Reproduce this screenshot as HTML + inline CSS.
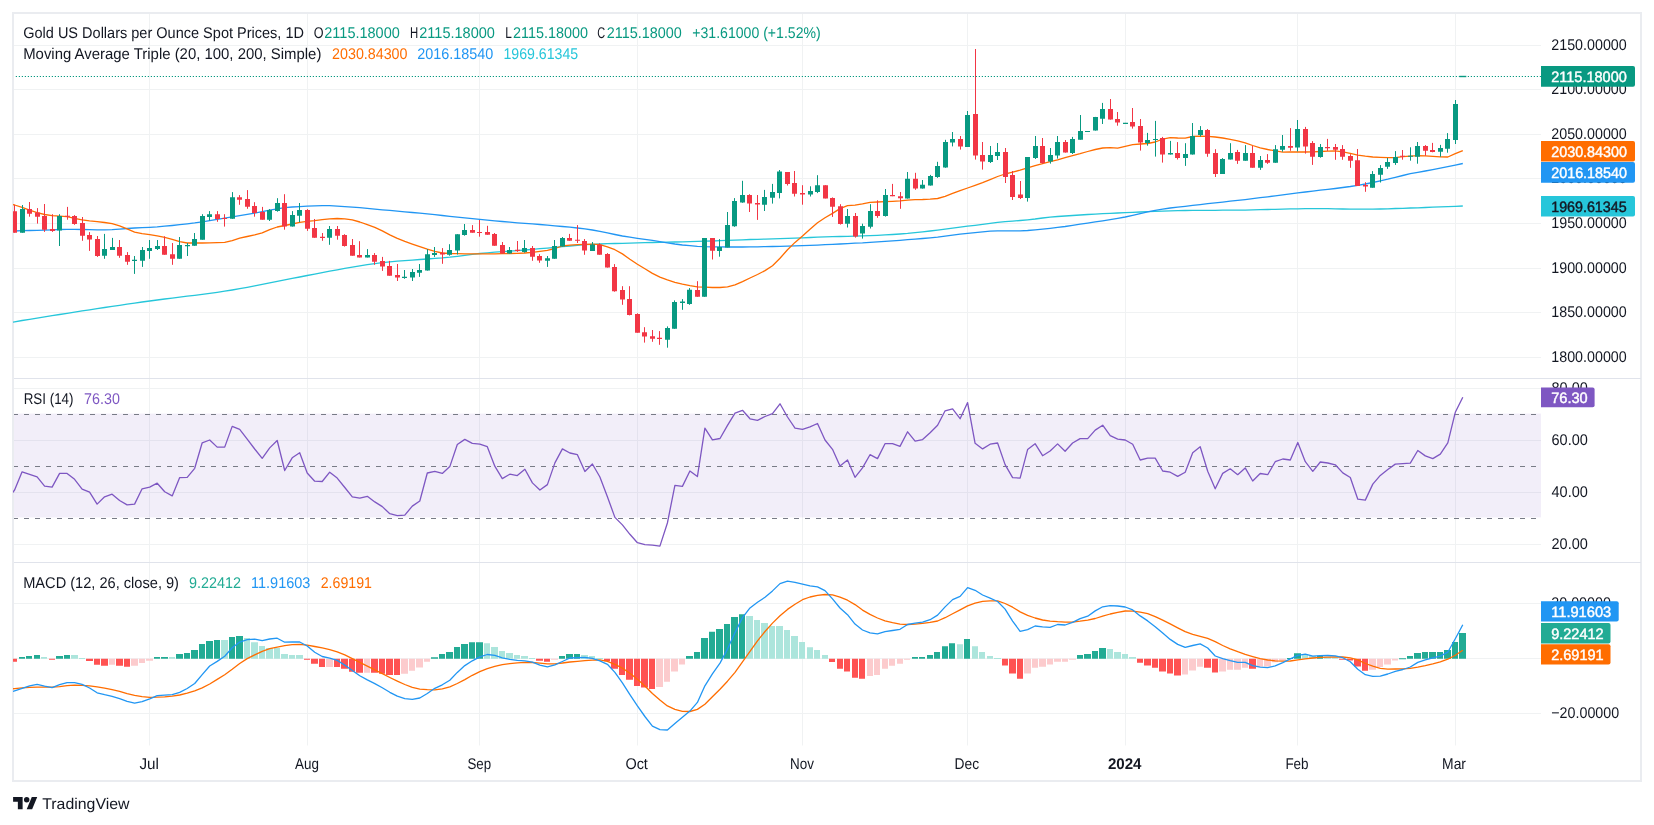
<!DOCTYPE html><html><head><meta charset="utf-8"><style>html,body{margin:0;padding:0;background:#fff;width:1654px;height:825px;overflow:hidden}svg{display:block;position:absolute;left:0;top:0;will-change:transform}</style></head><body>
<svg width="1654" height="825" viewBox="0 0 1654 825" font-family='"Liberation Sans", sans-serif' text-rendering="geometricPrecision">
<rect x="0" y="0" width="1654" height="825" fill="#ffffff"/>
<rect x="13" y="13" width="1628" height="768" fill="none" stroke="#eaecf0" stroke-width="2"/>
<defs><clipPath id="ca"><rect x="14" y="14" width="1527" height="732"/></clipPath><clipPath id="cm"><rect x="13" y="14" width="1528" height="364"/></clipPath><clipPath id="cr"><rect x="13" y="379" width="1528" height="183"/></clipPath><clipPath id="cd"><rect x="13" y="563" width="1528" height="183"/></clipPath></defs>
<path d="M149.5 14V745.5 M307.5 14V745.5 M479.5 14V745.5 M637.5 14V745.5 M802.5 14V745.5 M967.5 14V745.5 M1125.5 14V745.5 M1297.5 14V745.5 M1455.5 14V745.5 M14 45.5H1541 M14 89.5H1541 M14 134.5H1541 M14 178.5H1541 M14 223.5H1541 M14 268.5H1541 M14 312.5H1541 M14 357.5H1541 M14 388.5H1541 M14 440.5H1541 M14 492.5H1541 M14 544.5H1541 M14 603.5H1541 M14 658.5H1541 M14 713.5H1541" stroke="#f0f2f3" stroke-width="1" fill="none"/>
<path d="M14 378.5H1641M14 562.5H1641" stroke="#e0e3eb" stroke-width="1" fill="none"/>
<rect x="14" y="413.6" width="1527" height="103.8" fill="#7e57c2" fill-opacity="0.1"/>
<path d="M14 414.5H1541M14 466.5H1541M14 518.5H1541" stroke="#787b86" stroke-width="1.1" stroke-dasharray="5 6" stroke-dashoffset="1" fill="none"/>
<g clip-path="url(#cm)">
<polyline points="7.1,323.1 14.6,321.8 22.1,320.5 29.6,319.3 37.1,318.1 44.6,316.9 52.1,315.6 59.6,314.5 67.1,313.3 74.6,312.1 82.1,310.9 89.6,309.8 97.1,308.6 104.6,307.5 112.1,306.4 119.6,305.3 127.1,304.2 134.6,303.1 142.1,302.0 149.7,301.0 157.2,300.0 164.7,299.0 172.2,298.1 179.7,297.1 187.2,296.2 194.7,295.3 202.2,294.3 209.7,293.3 217.2,292.3 224.7,291.2 232.2,290.0 239.7,288.7 247.2,287.3 254.7,285.9 262.2,284.4 269.7,282.9 277.2,281.4 284.7,279.9 292.2,278.4 299.7,277.0 307.2,275.5 314.7,274.1 322.2,272.6 329.7,271.2 337.2,269.8 344.8,268.4 352.3,267.2 359.8,265.9 367.3,264.7 374.8,263.6 382.3,262.7 389.8,261.9 397.3,261.2 404.8,260.6 412.3,260.1 419.8,259.5 427.3,259.0 434.8,258.4 442.3,257.9 449.8,257.2 457.3,256.3 464.8,255.3 472.3,254.3 479.8,253.5 487.3,252.8 494.8,252.2 502.3,251.7 509.8,251.2 517.3,250.6 524.9,250.0 532.4,249.4 539.9,248.7 547.4,248.1 554.9,247.4 562.4,246.7 569.9,246.0 577.4,245.3 584.9,244.7 592.4,244.3 599.9,244.0 607.4,243.7 614.9,243.5 622.4,243.3 629.9,243.1 637.4,242.9 644.9,242.7 652.4,242.5 659.9,242.3 667.4,242.1 674.9,242.0 682.4,241.8 689.9,241.6 697.4,241.4 704.9,241.2 712.4,241.0 720.0,240.7 727.5,240.4 735.0,240.1 742.5,239.8 750.0,239.5 757.5,239.3 765.0,239.1 772.5,238.9 780.0,238.7 787.5,238.4 795.0,238.1 802.5,237.8 810.0,237.5 817.5,237.1 825.0,236.9 832.5,236.7 840.0,236.5 847.5,236.3 855.0,236.1 862.5,235.9 870.0,235.6 877.5,235.3 885.0,234.9 892.5,234.5 900.0,234.0 907.6,233.4 915.1,232.6 922.6,231.8 930.1,231.0 937.6,230.1 945.1,229.1 952.6,228.2 960.1,227.2 967.6,226.2 975.1,225.3 982.6,224.3 990.1,223.3 997.6,222.4 1005.1,221.7 1012.6,221.1 1020.1,220.5 1027.6,219.8 1035.1,219.0 1042.6,218.0 1050.1,217.2 1057.6,216.5 1065.1,216.0 1072.6,215.5 1080.1,215.0 1087.7,214.5 1095.2,214.1 1102.7,213.7 1110.2,213.3 1117.7,213.0 1125.2,212.6 1132.7,212.3 1140.2,212.0 1147.7,211.7 1155.2,211.4 1162.7,211.2 1170.2,210.9 1177.7,210.7 1185.2,210.5 1192.7,210.4 1200.2,210.3 1207.7,210.3 1215.2,210.3 1222.7,210.2 1230.2,210.2 1237.7,210.2 1245.2,210.1 1252.7,209.9 1260.2,209.7 1267.7,209.5 1275.2,209.3 1282.8,209.1 1290.3,208.9 1297.8,208.8 1305.3,208.7 1312.8,208.6 1320.3,208.6 1327.8,208.7 1335.3,208.8 1342.8,209.0 1350.3,209.1 1357.8,209.2 1365.3,209.2 1372.8,209.1 1380.3,209.0 1387.8,208.8 1395.3,208.5 1402.8,208.3 1410.3,208.0 1417.8,207.8 1425.3,207.5 1432.8,207.2 1440.3,206.9 1447.8,206.6 1455.3,206.3 1462.8,206.0" fill="none" stroke="#26c6da" stroke-width="1.3" stroke-linejoin="round"/>
<polyline points="7.1,231.2 14.6,231.0 22.1,230.7 29.6,230.5 37.1,230.3 44.6,230.1 52.1,229.8 59.6,229.5 67.1,229.3 74.6,229.3 82.1,229.5 89.6,229.7 97.1,229.8 104.6,229.9 112.1,229.7 119.6,229.1 127.1,228.5 134.6,228.0 142.1,227.7 149.7,227.3 157.2,226.9 164.7,226.2 172.2,225.5 179.7,224.7 187.2,223.8 194.7,222.9 202.2,221.8 209.7,220.6 217.2,219.4 224.7,218.1 232.2,216.9 239.7,215.7 247.2,214.4 254.7,213.1 262.2,211.7 269.7,210.2 277.2,208.8 284.7,207.7 292.2,207.0 299.7,206.6 307.2,206.2 314.7,205.8 322.2,205.6 329.7,205.7 337.2,206.1 344.8,206.6 352.3,207.2 359.8,207.7 367.3,208.4 374.8,209.1 382.3,209.8 389.8,210.4 397.3,211.1 404.8,211.8 412.3,212.5 419.8,213.2 427.3,213.9 434.8,214.7 442.3,215.5 449.8,216.3 457.3,217.1 464.8,217.9 472.3,218.7 479.8,219.4 487.3,220.1 494.8,220.8 502.3,221.5 509.8,222.1 517.3,222.8 524.9,223.4 532.4,223.9 539.9,224.5 547.4,225.1 554.9,225.8 562.4,226.5 569.9,227.2 577.4,228.0 584.9,228.9 592.4,230.0 599.9,231.3 607.4,232.9 614.9,234.5 622.4,236.0 629.9,237.2 637.4,238.3 644.9,239.3 652.4,240.4 659.9,241.6 667.4,242.8 674.9,244.0 682.4,245.0 689.9,245.7 697.4,246.4 704.9,246.7 712.4,246.8 720.0,246.9 727.5,247.0 735.0,247.0 742.5,247.0 750.0,246.9 757.5,246.8 765.0,246.6 772.5,246.5 780.0,246.3 787.5,246.1 795.0,245.9 802.5,245.6 810.0,245.4 817.5,245.1 825.0,244.7 832.5,244.4 840.0,244.0 847.5,243.6 855.0,243.2 862.5,242.9 870.0,242.4 877.5,241.9 885.0,241.4 892.5,240.9 900.0,240.3 907.6,239.7 915.1,239.1 922.6,238.5 930.1,237.8 937.6,237.1 945.1,236.2 952.6,235.2 960.1,234.2 967.6,233.4 975.1,232.6 982.6,231.8 990.1,231.2 997.6,230.8 1005.1,230.8 1012.6,230.8 1020.1,230.8 1027.6,230.5 1035.1,229.8 1042.6,229.1 1050.1,228.3 1057.6,227.4 1065.1,226.5 1072.6,225.4 1080.1,224.2 1087.7,223.1 1095.2,221.9 1102.7,220.8 1110.2,219.6 1117.7,218.3 1125.2,217.0 1132.7,215.4 1140.2,213.7 1147.7,211.9 1155.2,210.3 1162.7,209.1 1170.2,208.0 1177.7,207.1 1185.2,206.3 1192.7,205.4 1200.2,204.6 1207.7,203.7 1215.2,202.9 1222.7,202.1 1230.2,201.2 1237.7,200.4 1245.2,199.6 1252.7,198.7 1260.2,197.7 1267.7,196.8 1275.2,195.8 1282.8,194.9 1290.3,193.9 1297.8,192.9 1305.3,192.0 1312.8,191.1 1320.3,190.2 1327.8,189.4 1335.3,188.5 1342.8,187.5 1350.3,186.5 1357.8,185.3 1365.3,184.0 1372.8,182.5 1380.3,180.9 1387.8,179.2 1395.3,177.3 1402.8,175.5 1410.3,173.7 1417.8,172.3 1425.3,171.0 1432.8,169.6 1440.3,168.1 1447.8,166.6 1455.3,165.1 1462.8,163.5" fill="none" stroke="#2196f3" stroke-width="1.3" stroke-linejoin="round"/>
<polyline points="7.1,203.1 14.6,205.0 22.1,207.3 29.6,210.2 37.1,212.6 44.6,214.5 52.1,215.7 59.6,216.1 67.1,216.7 74.6,218.3 82.1,219.9 89.6,220.9 97.1,221.7 104.6,222.5 112.1,223.7 119.6,225.9 127.1,228.8 134.6,232.1 142.1,233.6 149.7,234.6 157.2,235.9 164.7,237.4 172.2,239.3 179.7,241.7 187.2,243.0 194.7,243.0 202.2,243.0 209.7,242.9 217.2,242.7 224.7,242.4 232.2,240.6 239.7,238.2 247.2,236.5 254.7,234.8 262.2,232.8 269.7,229.7 277.2,227.0 284.7,225.5 292.2,224.0 299.7,222.4 307.2,221.4 314.7,220.6 322.2,219.6 329.7,218.8 337.2,218.5 344.8,218.8 352.3,219.9 359.8,222.0 367.3,224.6 374.8,227.4 382.3,230.9 389.8,234.8 397.3,238.4 404.8,241.4 412.3,244.1 419.8,246.7 427.3,249.2 434.8,251.3 442.3,253.0 449.8,253.5 457.3,253.7 464.8,253.8 472.3,253.9 479.8,253.9 487.3,253.9 494.8,253.8 502.3,253.7 509.8,253.5 517.3,253.3 524.9,253.0 532.4,252.3 539.9,251.4 547.4,250.4 554.9,248.5 562.4,246.0 569.9,245.1 577.4,244.7 584.9,244.4 592.4,244.2 599.9,244.7 607.4,246.9 614.9,249.7 622.4,253.9 629.9,259.2 637.4,264.2 644.9,268.8 652.4,273.4 659.9,277.1 667.4,279.9 674.9,282.3 682.4,284.1 689.9,285.6 697.4,286.8 704.9,287.2 712.4,287.5 720.0,287.5 727.5,286.8 735.0,284.8 742.5,281.6 750.0,278.0 757.5,274.5 765.0,270.6 772.5,265.7 780.0,258.3 787.5,249.7 795.0,242.4 802.5,236.1 810.0,229.2 817.5,222.8 825.0,217.8 832.5,213.4 840.0,208.6 847.5,205.6 855.0,205.1 862.5,203.9 870.0,202.4 877.5,202.0 885.0,201.7 892.5,201.3 900.0,200.8 907.6,200.1 915.1,199.7 922.6,199.5 930.1,199.1 937.6,198.5 945.1,196.4 952.6,193.4 960.1,190.6 967.6,188.0 975.1,185.3 982.6,182.6 990.1,179.6 997.6,176.5 1005.1,174.0 1012.6,172.2 1020.1,170.2 1027.6,167.9 1035.1,165.6 1042.6,163.6 1050.1,161.7 1057.6,159.8 1065.1,157.7 1072.6,155.6 1080.1,153.7 1087.7,151.5 1095.2,149.5 1102.7,148.0 1110.2,147.7 1117.7,148.2 1125.2,146.4 1132.7,144.6 1140.2,144.0 1147.7,143.5 1155.2,142.0 1162.7,139.1 1170.2,137.6 1177.7,138.0 1185.2,138.2 1192.7,136.5 1200.2,136.1 1207.7,136.3 1215.2,137.0 1222.7,138.0 1230.2,139.4 1237.7,140.9 1245.2,142.9 1252.7,145.5 1260.2,147.8 1267.7,149.5 1275.2,150.9 1282.8,152.1 1290.3,152.0 1297.8,152.0 1305.3,152.0 1312.8,151.9 1320.3,151.5 1327.8,151.1 1335.3,150.9 1342.8,151.8 1350.3,153.4 1357.8,155.1 1365.3,156.2 1372.8,157.0 1380.3,157.4 1387.8,157.7 1395.3,157.7 1402.8,156.7 1410.3,156.1 1417.8,155.7 1425.3,155.8 1432.8,156.4 1440.3,156.9 1447.8,157.0 1455.3,153.7 1462.8,150.6" fill="none" stroke="#ff6d00" stroke-width="1.3" stroke-linejoin="round"/>
<path d="M22.50 205.0V232.7 M59.50 214.2V246.0 M104.50 233.9V258.8 M112.50 237.9V249.9 M134.50 256.0V273.9 M142.50 247.0V266.9 M149.50 240.0V258.8 M157.50 240.0V250.0 M179.50 237.0V258.8 M187.50 243.0V256.0 M194.50 233.0V245.8 M202.50 214.2V239.7 M209.50 211.1V220.6 M232.50 192.1V218.8 M269.50 209.1V221.0 M277.50 198.2V211.7 M292.50 211.1V226.6 M299.50 203.0V222.2 M329.50 226.0V244.8 M367.50 249.1V257.5 M404.50 270.0V278.8 M412.50 269.0V281.0 M419.50 264.0V276.9 M427.50 249.1V270.6 M434.50 247.0V256.9 M449.50 244.2V255.7 M457.50 234.2V254.5 M464.50 224.0V235.7 M509.50 247.0V253.6 M524.50 240.0V252.7 M547.50 256.0V266.9 M554.50 240.0V258.8 M562.50 237.0V246.6 M592.50 242.0V251.0 M667.50 326.4V347.7 M674.50 300.4V328.8 M682.50 299.1V309.8 M689.50 288.1V304.8 M704.50 238.1V296.8 M719.50 239.1V256.7 M727.50 212.0V247.4 M734.50 198.1V226.8 M742.50 180.8V202.8 M764.50 189.9V211.0 M772.50 183.9V203.6 M779.50 170.0V198.4 M810.50 186.3V196.5 M817.50 175.2V193.1 M847.50 209.0V227.5 M862.50 223.7V238.6 M870.50 204.2V228.5 M885.50 189.0V216.6 M907.50 172.0V198.6 M922.50 180.0V188.6 M930.50 174.9V185.6 M937.50 161.8V177.9 M945.50 139.8V167.8 M952.50 132.0V146.4 M967.50 111.0V147.0 M990.50 146.0V163.0 M997.50 143.0V160.0 M1027.50 157.0V201.6 M1035.50 136.0V159.0 M1050.50 148.0V163.6 M1057.50 136.0V158.6 M1072.50 136.9V154.0 M1080.50 115.0V139.7 M1087.50 131.0V132.0 M1095.50 116.9V130.6 M1102.50 102.9V124.0 M1125.50 122.9V123.7 M1147.50 132.9V145.7 M1155.50 120.9V156.6 M1170.50 140.9V154.6 M1185.50 143.2V165.9 M1192.50 123.0V154.6 M1200.50 126.1V136.6 M1222.50 158.1V173.9 M1230.50 143.2V159.5 M1245.50 145.1V160.8 M1260.50 156.0V169.9 M1275.50 145.1V162.8 M1282.50 135.0V151.7 M1297.50 120.0V151.4 M1320.50 144.0V157.7 M1372.50 171.1V187.7 M1380.50 165.1V182.5 M1387.50 158.0V168.9 M1395.50 151.1V164.9 M1410.50 147.3V160.7 M1417.50 142.0V163.7 M1440.50 144.9V156.7 M1447.50 133.1V152.7 M1455.50 100.0V144.0" stroke="#089981" stroke-width="1" fill="none"/>
<path d="M20.00 209.0h5V232.7h-5Z M57.00 216.0h5V230.6h-5Z M102.00 249.1h5V255.7h-5Z M110.00 247.0h5V249.9h-5Z M132.00 259.7h5V260.9h-5Z M140.00 249.9h5V260.8h-5Z M147.00 248.1h5V250.9h-5Z M155.00 246.0h5V249.1h-5Z M177.00 245.1h5V258.8h-5Z M185.00 245.0h5V246.2h-5Z M192.00 239.0h5V245.8h-5Z M200.00 216.0h5V239.7h-5Z M207.00 214.2h5V217.0h-5Z M230.00 197.2h5V218.8h-5Z M267.00 210.0h5V219.7h-5Z M275.00 203.0h5V210.9h-5Z M290.00 215.1h5V226.6h-5Z M297.00 210.0h5V215.7h-5Z M327.00 229.1h5V237.8h-5Z M365.00 255.1h5V257.5h-5Z M402.00 276.8h5V278.0h-5Z M410.00 272.1h5V277.5h-5Z M417.00 270.0h5V272.7h-5Z M425.00 254.2h5V270.6h-5Z M432.00 253.1h5V254.9h-5Z M447.00 250.0h5V254.8h-5Z M455.00 234.2h5V250.6h-5Z M462.00 230.0h5V234.9h-5Z M507.00 250.0h5V253.6h-5Z M522.00 248.1h5V252.1h-5Z M545.00 258.2h5V260.8h-5Z M552.00 246.0h5V258.8h-5Z M560.00 237.9h5V246.6h-5Z M590.00 244.5h5V250.9h-5Z M665.00 328.0h5V339.8h-5Z M672.00 302.0h5V328.8h-5Z M680.00 301.6h5V302.9h-5Z M687.00 289.8h5V304.0h-5Z M702.00 238.1h5V296.8h-5Z M717.00 247.0h5V250.9h-5Z M725.00 224.9h5V247.4h-5Z M732.00 200.9h5V226.2h-5Z M740.00 195.0h5V202.4h-5Z M762.00 197.0h5V204.7h-5Z M770.00 192.1h5V197.8h-5Z M777.00 171.6h5V193.1h-5Z M808.00 191.0h5V194.6h-5Z M815.00 185.2h5V192.1h-5Z M845.00 216.1h5V223.7h-5Z M860.00 225.9h5V233.6h-5Z M868.00 211.0h5V226.8h-5Z M883.00 194.9h5V216.1h-5Z M905.00 178.8h5V198.6h-5Z M920.00 184.7h5V188.6h-5Z M928.00 175.9h5V185.6h-5Z M935.00 166.1h5V177.1h-5Z M943.00 142.0h5V167.4h-5Z M950.00 139.0h5V142.6h-5Z M965.00 115.0h5V147.0h-5Z M988.00 155.0h5V162.0h-5Z M995.00 152.0h5V156.0h-5Z M1025.00 157.0h5V198.0h-5Z M1033.00 146.0h5V158.0h-5Z M1048.00 155.0h5V161.6h-5Z M1055.00 142.0h5V155.6h-5Z M1070.00 139.0h5V153.0h-5Z M1078.00 131.0h5V139.7h-5Z M1085.00 130.9h5V132.1h-5Z M1093.00 116.9h5V130.6h-5Z M1100.00 109.1h5V118.7h-5Z M1123.00 122.7h5V123.9h-5Z M1145.00 140.0h5V143.0h-5Z M1153.00 138.9h5V140.1h-5Z M1168.00 153.0h5V154.6h-5Z M1183.00 154.1h5V157.9h-5Z M1190.00 136.1h5V154.6h-5Z M1198.00 130.1h5V135.0h-5Z M1220.00 159.0h5V173.9h-5Z M1228.00 153.0h5V159.5h-5Z M1243.00 153.0h5V160.8h-5Z M1258.00 160.1h5V167.7h-5Z M1273.00 149.2h5V162.8h-5Z M1280.00 145.9h5V149.7h-5Z M1295.00 129.1h5V147.6h-5Z M1318.00 147.1h5V156.9h-5Z M1370.00 174.1h5V187.7h-5Z M1378.00 168.1h5V174.7h-5Z M1385.00 162.1h5V166.7h-5Z M1393.00 157.1h5V162.9h-5Z M1408.00 155.7h5V156.8h-5Z M1415.00 146.0h5V156.7h-5Z M1438.00 148.0h5V151.7h-5Z M1445.00 138.9h5V148.7h-5Z M1453.00 104.0h5V140.0h-5Z" fill="#089981"/>
<path d="M14.50 204.8V232.7 M29.50 202.0V216.7 M37.50 208.1V223.6 M44.50 204.0V231.9 M52.50 214.2V231.9 M67.50 206.9V219.7 M74.50 215.1V224.8 M82.50 217.0V240.8 M89.50 232.1V250.9 M97.50 236.0V256.9 M119.50 240.0V257.8 M127.50 252.1V264.8 M164.50 236.3V254.8 M172.50 243.0V264.8 M217.50 211.1V221.8 M224.50 214.2V226.6 M239.50 195.1V204.8 M247.50 190.1V208.8 M254.50 202.2V216.7 M262.50 206.9V219.7 M284.50 194.2V229.7 M307.50 209.1V230.9 M314.50 219.0V237.8 M322.50 233.0V240.8 M337.50 226.0V239.7 M344.50 234.2V246.6 M352.50 239.0V255.7 M359.50 241.2V257.5 M374.50 253.1V264.8 M382.50 256.9V270.9 M389.50 260.9V275.7 M397.50 264.0V281.0 M442.50 248.1V263.8 M472.50 225.1V232.7 M479.50 220.0V236.7 M487.50 225.8V234.8 M494.50 233.0V245.8 M502.50 242.0V253.6 M517.50 241.0V251.9 M532.50 246.0V260.8 M539.50 254.2V262.8 M569.50 233.9V240.8 M577.50 225.1V243.0 M584.50 239.0V254.8 M599.50 243.3V254.7 M607.50 253.1V267.6 M614.50 264.1V291.7 M622.50 286.2V304.8 M629.50 286.2V315.4 M637.50 313.3V332.7 M644.50 327.2V342.6 M652.50 330.0V341.8 M659.50 331.1V344.8 M697.50 281.2V296.8 M712.50 238.1V259.5 M749.50 194.2V212.0 M757.50 195.0V219.9 M787.50 172.1V185.5 M794.50 171.0V196.5 M802.50 185.2V204.7 M825.50 185.2V198.4 M832.50 197.4V216.9 M840.50 204.2V224.6 M855.50 213.0V237.6 M877.50 200.3V217.8 M892.50 183.9V196.2 M900.50 192.0V208.8 M915.50 172.8V189.8 M960.50 136.0V149.6 M975.50 49.0V159.6 M982.50 142.0V169.6 M1005.50 148.0V183.0 M1012.50 171.0V200.0 M1020.50 181.0V199.0 M1042.50 138.0V164.0 M1065.50 140.0V152.6 M1110.50 99.0V119.6 M1117.50 112.0V125.7 M1132.50 108.0V128.6 M1140.50 119.0V150.6 M1162.50 136.9V162.6 M1177.50 142.1V159.5 M1207.50 129.0V156.8 M1215.50 149.2V177.0 M1237.50 149.9V163.9 M1252.50 145.9V167.7 M1267.50 154.1V163.9 M1290.50 128.1V150.8 M1305.50 126.9V153.6 M1312.50 141.1V164.9 M1327.50 138.9V150.9 M1335.50 144.0V159.8 M1342.50 145.1V159.8 M1350.50 154.2V167.8 M1357.50 149.0V186.0 M1365.50 182.2V191.8 M1402.50 150.0V159.7 M1425.50 145.1V155.7 M1432.50 142.9V152.3" stroke="#f23645" stroke-width="1" fill="none"/>
<path d="M12.00 211.3h5V232.7h-5Z M27.00 209.0h5V213.7h-5Z M35.00 212.5h5V216.7h-5Z M42.00 216.0h5V229.7h-5Z M50.00 229.1h5V230.9h-5Z M65.00 215.7h5V216.8h-5Z M72.00 216.0h5V223.9h-5Z M80.00 223.0h5V235.7h-5Z M87.00 235.1h5V239.6h-5Z M95.00 239.0h5V256.1h-5Z M117.00 247.0h5V255.7h-5Z M125.00 255.1h5V261.8h-5Z M162.00 246.0h5V254.8h-5Z M170.00 254.2h5V258.8h-5Z M215.00 214.2h5V219.0h-5Z M222.00 217.9h5V219.1h-5Z M237.00 197.2h5V199.8h-5Z M245.00 199.0h5V206.7h-5Z M252.00 206.0h5V213.0h-5Z M260.00 212.1h5V219.7h-5Z M282.00 203.0h5V226.6h-5Z M305.00 210.0h5V228.7h-5Z M312.00 228.1h5V237.8h-5Z M320.00 236.8h5V237.9h-5Z M335.00 229.1h5V235.7h-5Z M342.00 235.1h5V246.0h-5Z M350.00 245.1h5V255.7h-5Z M357.00 255.1h5V257.5h-5Z M372.00 255.1h5V261.8h-5Z M380.00 260.9h5V266.6h-5Z M387.00 266.0h5V275.7h-5Z M395.00 275.1h5V277.5h-5Z M440.00 252.7h5V254.5h-5Z M470.00 230.0h5V232.7h-5Z M477.00 231.9h5V233.1h-5Z M485.00 232.1h5V234.8h-5Z M492.00 233.9h5V245.8h-5Z M500.00 245.1h5V253.6h-5Z M515.00 249.7h5V250.9h-5Z M530.00 248.1h5V256.7h-5Z M537.00 256.0h5V260.6h-5Z M567.00 237.9h5V240.8h-5Z M575.00 239.7h5V240.8h-5Z M582.00 241.0h5V250.6h-5Z M597.00 244.7h5V254.7h-5Z M605.00 253.9h5V267.6h-5Z M612.00 267.0h5V291.2h-5Z M620.00 290.1h5V299.6h-5Z M627.00 299.1h5V315.0h-5Z M635.00 314.1h5V332.7h-5Z M642.00 332.2h5V336.6h-5Z M650.00 336.2h5V338.7h-5Z M657.00 337.7h5V338.9h-5Z M695.00 290.1h5V296.8h-5Z M710.00 238.1h5V250.8h-5Z M747.00 195.0h5V203.6h-5Z M755.00 203.1h5V204.4h-5Z M785.00 172.1h5V183.9h-5Z M792.00 183.1h5V193.7h-5Z M800.00 193.1h5V194.6h-5Z M823.00 185.2h5V198.4h-5Z M830.00 197.9h5V206.8h-5Z M838.00 206.3h5V224.1h-5Z M853.00 216.1h5V236.4h-5Z M875.00 211.0h5V216.1h-5Z M890.00 194.9h5V196.2h-5Z M898.00 196.2h5V198.3h-5Z M913.00 178.8h5V188.6h-5Z M958.00 139.0h5V146.6h-5Z M973.00 114.0h5V155.6h-5Z M980.00 155.0h5V161.6h-5Z M1003.00 152.0h5V177.0h-5Z M1010.00 175.0h5V197.0h-5Z M1018.00 194.6h5V198.0h-5Z M1040.00 146.0h5V163.0h-5Z M1063.00 142.0h5V152.6h-5Z M1108.00 109.1h5V119.6h-5Z M1115.00 119.0h5V122.6h-5Z M1130.00 122.0h5V126.6h-5Z M1138.00 126.0h5V142.6h-5Z M1160.00 138.0h5V154.6h-5Z M1175.00 153.0h5V157.9h-5Z M1205.00 130.1h5V153.8h-5Z M1213.00 153.0h5V173.9h-5Z M1235.00 152.1h5V160.8h-5Z M1250.00 153.0h5V167.7h-5Z M1265.00 160.1h5V162.8h-5Z M1288.00 145.9h5V147.8h-5Z M1303.00 129.1h5V146.5h-5Z M1310.00 142.9h5V156.7h-5Z M1325.00 147.0h5V148.2h-5Z M1333.00 147.1h5V149.8h-5Z M1340.00 149.0h5V156.7h-5Z M1348.00 156.0h5V160.7h-5Z M1355.00 160.2h5V186.0h-5Z M1363.00 185.0h5V186.4h-5Z M1400.00 155.7h5V156.8h-5Z M1423.00 146.0h5V150.7h-5Z M1430.00 150.0h5V152.0h-5Z" fill="#f23645"/>
<rect x="1459.3" y="75.8" width="7" height="1.4" fill="#089981"/>
</g>
<path d="M14 76.5H1541" stroke="#089981" stroke-width="1.2" stroke-dasharray="1.2 1.8" stroke-dashoffset="1.2" fill="none"/>
<g clip-path="url(#cr)"><polyline points="7.1,500.0 14.6,490.0 22.1,471.8 29.6,474.4 37.1,476.9 44.6,486.1 52.1,487.1 59.6,473.4 67.1,473.4 74.6,479.3 82.1,489.1 89.6,492.2 97.1,504.1 104.6,496.8 112.1,494.2 119.6,500.5 127.1,504.9 134.6,504.1 142.1,488.8 149.7,487.1 157.2,483.2 164.7,491.7 172.2,495.9 179.7,477.6 187.2,477.3 194.7,468.3 202.2,442.8 209.7,440.0 217.2,447.1 224.7,447.1 232.2,426.4 239.7,429.4 247.2,439.1 254.7,449.0 262.2,458.3 269.7,447.9 277.2,440.5 284.7,470.5 292.2,457.8 299.7,452.7 307.2,473.0 314.7,481.2 322.2,481.5 329.7,472.2 337.2,478.1 344.8,487.5 352.3,496.8 359.8,498.1 367.3,496.3 374.8,501.9 382.3,506.6 389.8,513.7 397.3,515.6 404.8,515.1 412.3,506.1 419.8,501.0 427.3,473.0 434.8,471.3 442.3,473.4 449.8,466.6 457.3,444.5 464.8,439.4 472.3,443.3 479.8,444.2 487.3,446.7 494.8,466.2 502.3,478.6 509.8,474.2 517.3,475.6 524.9,469.3 532.4,482.9 539.9,490.0 547.4,484.6 554.9,462.9 562.4,448.9 569.9,453.0 577.4,454.7 584.9,471.5 592.4,464.0 599.9,477.0 607.4,496.7 614.9,517.4 622.4,524.9 629.9,534.3 637.4,542.7 644.9,544.6 652.4,545.2 659.9,546.1 667.4,523.0 674.9,485.4 682.4,486.4 689.9,471.0 697.4,476.6 704.9,428.2 712.4,439.8 720.0,438.5 727.5,425.4 735.0,413.1 742.5,410.3 750.0,418.8 757.5,420.3 765.0,416.5 772.5,413.7 780.0,403.8 787.5,417.0 795.0,428.1 802.5,429.4 810.0,426.9 817.5,423.5 825.0,440.0 832.5,449.3 840.0,465.9 847.5,460.0 855.0,477.3 862.5,467.9 870.0,454.7 877.5,458.6 885.0,443.7 892.5,443.7 900.0,446.4 907.6,431.8 915.1,441.1 922.6,439.6 930.1,432.7 937.6,425.2 945.1,410.8 952.6,408.9 960.1,418.7 967.6,402.6 975.1,443.3 982.6,448.9 990.1,444.2 997.6,443.0 1005.1,464.6 1012.6,477.6 1020.1,478.1 1027.6,449.6 1035.1,443.7 1042.6,455.7 1050.1,451.0 1057.6,443.9 1065.1,451.3 1072.6,443.0 1080.1,438.6 1087.7,438.6 1095.2,430.1 1102.7,425.2 1110.2,435.7 1117.7,439.1 1125.2,440.0 1132.7,444.2 1140.2,460.0 1147.7,458.1 1155.2,458.1 1162.7,471.0 1170.2,472.2 1177.7,476.4 1185.2,472.2 1192.7,452.7 1200.2,446.7 1207.7,471.3 1215.2,488.8 1222.7,473.4 1230.2,468.8 1237.7,474.7 1245.2,467.9 1252.7,481.0 1260.2,473.5 1267.7,474.7 1275.2,461.7 1282.8,459.0 1290.3,460.0 1297.8,442.5 1305.3,461.7 1312.8,471.3 1320.3,462.0 1327.8,463.0 1335.3,464.8 1342.8,472.9 1350.3,477.5 1357.8,499.2 1365.3,500.1 1372.8,484.1 1380.3,475.4 1387.8,469.5 1395.3,464.1 1402.8,463.7 1410.3,463.2 1417.8,450.5 1425.3,455.9 1432.8,458.6 1440.3,454.1 1447.8,442.8 1455.3,412.3 1462.8,397.2" fill="none" stroke="#7e57c2" stroke-width="1.3" stroke-linejoin="round"/></g>
<g clip-path="url(#cd)">
<path d="M19 656.9H25V658.7H19Z M26 656.0H32V658.7H26Z M34 655.1H40V658.7H34Z M56 656.0H63V658.7H56Z M64 655.1H70V658.7H64Z M154 656.9H160V658.7H154Z M161 656.9H168V658.7H161Z M176 654.0H183V658.7H176Z M184 652.9H190V658.7H184Z M191 650.0H198V658.7H191Z M199 644.0H205V658.7H199Z M206 641.1H213V658.7H206Z M214 640.0H220V658.7H214Z M229 637.1H235V658.7H229Z M236 635.9H243V658.7H236Z M431 657.2H438V658.7H431Z M439 654.1H445V658.7H439Z M446 651.9H453V658.7H446Z M454 647.0H460V658.7H454Z M461 644.1H468V658.7H461Z M469 642.2H475V658.7H469Z M476 642.2H483V658.7H476Z M559 656.0H565V658.7H559Z M566 654.1H573V658.7H566Z M574 654.1H580V658.7H574Z M686 656.1H693V658.7H686Z M694 652.0H700V658.7H694Z M701 638.0H708V658.7H701Z M709 631.8H715V658.7H709Z M716 628.9H723V658.7H716Z M724 624.1H730V658.7H724Z M731 617.1H738V658.7H731Z M739 614.2H745V658.7H739Z M912 657.1H918V658.7H912Z M919 657.1H925V658.7H919Z M927 655.0H933V658.7H927Z M934 652.0H940V658.7H934Z M942 646.2H948V658.7H942Z M949 643.3H955V658.7H949Z M964 639.0H970V658.7H964Z M1077 654.9H1083V658.7H1077Z M1084 654.0H1091V658.7H1084Z M1092 651.0H1098V658.7H1092Z M1099 648.1H1106V658.7H1099Z M1287 658.0H1293V659.0H1287Z M1294 653.2H1301V658.7H1294Z M1317 655.8H1323V658.7H1317Z M1399 658.2H1406V659.2H1399Z M1407 656.0H1413V658.7H1407Z M1414 653.0H1421V658.7H1414Z M1422 652.1H1428V658.7H1422Z M1429 652.1H1436V658.7H1429Z M1437 652.1H1443V658.7H1437Z M1444 649.9H1451V658.7H1444Z M1452 642.1H1458V658.7H1452Z M1459 633.0H1466V658.7H1459Z" fill="#22ab94"/>
<path d="M41 656.9H47V658.7H41Z M71 655.1H78V658.7H71Z M79 658.0H85V659.0H79Z M169 656.9H175V658.7H169Z M221 640.0H228V658.7H221Z M244 638.1H250V658.7H244Z M251 642.2H258V658.7H251Z M259 646.1H265V658.7H259Z M266 648.0H273V658.7H266Z M274 648.0H280V658.7H274Z M281 654.1H288V658.7H281Z M289 655.0H295V658.7H289Z M296 655.0H303V658.7H296Z M484 643.2H490V658.7H484Z M491 647.0H498V658.7H491Z M499 650.9H505V658.7H499Z M506 653.1H513V658.7H506Z M514 655.0H520V658.7H514Z M521 656.0H528V658.7H521Z M529 657.9H535V658.9H529Z M581 655.0H588V658.7H581Z M589 656.1H595V658.7H589Z M596 658.0H603V659.0H596Z M746 616.1H753V658.7H746Z M754 620.0H760V658.7H754Z M761 622.9H768V658.7H761Z M769 626.0H775V658.7H769Z M776 626.0H783V658.7H776Z M784 629.9H790V658.7H784Z M791 636.1H798V658.7H791Z M799 641.9H805V658.7H799Z M807 647.2H813V658.7H807Z M814 650.1H820V658.7H814Z M822 655.0H828V658.7H822Z M957 644.3H963V658.7H957Z M972 646.2H978V658.7H972Z M979 652.0H985V658.7H979Z M987 656.1H993V658.7H987Z M994 658.0H1001V659.0H994Z M1107 649.1H1113V658.7H1107Z M1114 652.0H1121V658.7H1114Z M1122 654.0H1128V658.7H1122Z M1129 657.1H1136V658.7H1129Z M1302 654.1H1308V658.7H1302Z M1309 656.1H1316V658.7H1309Z M1324 656.7H1331V658.7H1324Z M1332 657.6H1338V658.7H1332Z" fill="#ace5dc"/>
<path d="M11 658.7H17V661.7H11Z M49 658.7H55V659.7H49Z M86 658.7H93V660.9H86Z M94 658.7H100V664.7H94Z M101 658.7H108V665.7H101Z M116 658.7H123V665.7H116Z M124 658.7H130V666.7H124Z M304 658.7H310V659.7H304Z M311 658.7H318V663.7H311Z M319 658.7H325V666.9H319Z M334 658.7H340V666.9H334Z M341 658.7H348V668.8H341Z M349 658.7H355V671.7H349Z M356 658.7H363V672.7H356Z M371 658.7H378V672.7H371Z M379 658.7H385V673.7H379Z M386 658.7H393V674.9H386Z M394 658.7H400V674.9H394Z M536 658.7H543V660.8H536Z M544 658.7H550V661.8H544Z M604 658.7H610V661.3H604Z M611 658.7H618V668.7H611Z M619 658.7H625V674.9H619Z M626 658.7H633V679.8H626Z M634 658.7H640V686.0H634Z M641 658.7H648V687.5H641Z M649 658.7H655V688.9H649Z M829 658.7H835V661.9H829Z M837 658.7H843V668.7H837Z M844 658.7H850V671.6H844Z M852 658.7H858V677.8H852Z M859 658.7H865V678.8H859Z M1002 658.7H1008V665.6H1002Z M1009 658.7H1016V673.5H1009Z M1017 658.7H1023V678.8H1017Z M1137 658.7H1143V662.7H1137Z M1144 658.7H1151V665.6H1144Z M1152 658.7H1158V667.7H1152Z M1159 658.7H1166V671.6H1159Z M1167 658.7H1173V673.5H1167Z M1174 658.7H1181V675.5H1174Z M1204 658.7H1211V667.7H1204Z M1212 658.7H1218V672.6H1212Z M1249 658.7H1256V668.7H1249Z M1339 658.7H1346V659.7H1339Z M1347 658.7H1353V660.6H1347Z M1354 658.7H1361V666.4H1354Z M1362 658.7H1368V670.7H1362Z" fill="#ff5252"/>
<path d="M109 658.7H115V664.7H109Z M131 658.7H138V665.7H131Z M139 658.7H145V662.9H139Z M146 658.7H153V660.7H146Z M326 658.7H333V666.9H326Z M364 658.7H370V672.7H364Z M401 658.7H408V673.7H401Z M409 658.7H415V670.8H409Z M416 658.7H423V667.6H416Z M424 658.7H430V661.8H424Z M551 658.7H558V659.7H551Z M656 658.7H663V686.9H656Z M664 658.7H670V681.7H664Z M671 658.7H678V671.6H671Z M679 658.7H685V664.6H679Z M867 658.7H873V675.9H867Z M874 658.7H880V674.9H874Z M882 658.7H888V668.7H882Z M889 658.7H895V665.8H889Z M897 658.7H903V663.8H897Z M904 658.7H910V659.8H904Z M1024 658.7H1031V673.5H1024Z M1032 658.7H1038V667.7H1032Z M1039 658.7H1046V666.8H1039Z M1047 658.7H1053V664.6H1047Z M1054 658.7H1061V661.7H1054Z M1062 658.7H1068V661.7H1062Z M1069 658.7H1076V659.7H1069Z M1182 658.7H1188V674.5H1182Z M1189 658.7H1196V670.6H1189Z M1197 658.7H1203V666.8H1197Z M1219 658.7H1226V671.6H1219Z M1227 658.7H1233V669.7H1227Z M1234 658.7H1241V669.7H1234Z M1242 658.7H1248V667.7H1242Z M1257 658.7H1263V666.8H1257Z M1264 658.7H1271V666.6H1264Z M1272 658.7H1278V662.3H1272Z M1279 658.7H1286V660.4H1279Z M1369 658.7H1376V669.7H1369Z M1377 658.7H1383V667.0H1377Z M1384 658.7H1391V664.6H1384Z M1392 658.7H1398V660.6H1392Z" fill="#fccbcd"/>
<polyline points="7.1,689.4 14.6,688.6 22.1,687.8 29.6,687.3 37.1,687.1 44.6,687.1 52.1,687.1 59.6,686.6 67.1,685.7 74.6,685.1 82.1,685.3 89.6,685.8 97.1,686.8 104.6,688.1 112.1,689.7 119.6,691.4 127.1,693.6 134.6,695.3 142.1,696.6 149.7,697.3 157.2,697.2 164.7,696.8 172.2,696.2 179.7,695.0 187.2,693.1 194.7,690.8 202.2,687.9 209.7,684.0 217.2,679.4 224.7,674.7 232.2,669.3 239.7,663.5 247.2,658.6 254.7,654.8 262.2,651.3 269.7,648.7 277.2,647.1 284.7,645.7 292.2,644.7 299.7,644.4 307.2,645.1 314.7,646.5 322.2,647.9 329.7,649.7 337.2,651.9 344.8,654.9 352.3,658.7 359.8,662.4 367.3,666.2 374.8,669.9 382.3,673.7 389.8,677.5 397.3,681.1 404.8,684.5 412.3,687.4 419.8,689.1 427.3,689.7 434.8,689.9 442.3,688.8 449.8,686.8 457.3,683.5 464.8,679.6 472.3,675.3 479.8,671.6 487.3,668.6 494.8,666.4 502.3,664.6 509.8,663.6 517.3,662.8 524.9,662.4 532.4,662.5 539.9,663.2 547.4,663.9 554.9,663.8 562.4,663.0 569.9,662.0 577.4,661.3 584.9,660.7 592.4,660.1 599.9,659.8 607.4,661.3 614.9,664.4 622.4,668.1 629.9,673.2 637.4,679.2 644.9,686.0 652.4,693.5 659.9,700.1 667.4,705.9 674.9,709.3 682.4,711.4 689.9,711.5 697.4,709.4 704.9,704.2 712.4,696.7 720.0,689.2 727.5,681.2 735.0,672.3 742.5,661.9 750.0,651.3 757.5,640.9 765.0,631.5 772.5,623.1 780.0,615.7 787.5,609.4 795.0,604.2 802.5,599.7 810.0,597.0 817.5,595.4 825.0,594.5 832.5,594.8 840.0,597.1 847.5,600.2 855.0,604.6 862.5,610.1 870.0,614.4 877.5,618.0 885.0,620.8 892.5,622.7 900.0,624.1 907.6,624.5 915.1,624.1 922.6,623.4 930.1,622.4 937.6,621.0 945.1,617.7 952.6,613.7 960.1,609.8 967.6,605.9 975.1,603.1 982.6,601.3 990.1,600.9 997.6,600.8 1005.1,603.5 1012.6,607.2 1020.1,611.9 1027.6,615.4 1035.1,618.0 1042.6,620.0 1050.1,621.1 1057.6,621.7 1065.1,622.1 1072.6,622.0 1080.1,621.2 1087.7,620.1 1095.2,618.5 1102.7,616.2 1110.2,614.0 1117.7,612.3 1125.2,611.0 1132.7,611.2 1140.2,612.1 1147.7,613.7 1155.2,616.6 1162.7,620.1 1170.2,623.9 1177.7,627.9 1185.2,631.7 1192.7,634.4 1200.2,636.3 1207.7,638.4 1215.2,641.6 1222.7,645.5 1230.2,648.8 1237.7,651.7 1245.2,654.4 1252.7,656.6 1260.2,658.7 1267.7,660.0 1275.2,660.8 1282.8,661.2 1290.3,661.0 1297.8,659.9 1305.3,658.8 1312.8,658.0 1320.3,657.4 1327.8,657.1 1335.3,657.0 1342.8,657.0 1350.3,657.8 1357.8,659.9 1365.3,663.5 1372.8,666.2 1380.3,668.3 1387.8,669.1 1395.3,669.0 1402.8,668.9 1410.3,668.3 1417.8,667.2 1425.3,665.7 1432.8,663.9 1440.3,661.8 1447.8,659.2 1455.3,655.2 1462.8,650.2" fill="none" stroke="#ff6d00" stroke-width="1.3" stroke-linejoin="round"/>
<polyline points="7.1,693.6 14.6,690.8 22.1,688.4 29.6,685.8 37.1,684.4 44.6,686.2 52.1,687.6 59.6,684.7 67.1,682.7 74.6,682.7 82.1,684.4 89.6,688.0 97.1,692.8 104.6,694.7 112.1,696.3 119.6,698.6 127.1,701.3 134.6,703.1 142.1,701.6 149.7,698.8 157.2,695.6 164.7,695.1 172.2,694.6 179.7,692.4 187.2,688.5 194.7,683.5 202.2,674.6 209.7,666.0 217.2,661.4 224.7,656.2 232.2,647.8 239.7,642.1 247.2,639.7 254.7,639.1 262.2,640.7 269.7,639.0 277.2,638.2 284.7,642.2 292.2,642.0 299.7,642.0 307.2,646.0 314.7,652.2 322.2,656.5 329.7,658.2 337.2,660.4 344.8,665.1 352.3,670.5 359.8,675.8 367.3,679.9 374.8,683.6 382.3,687.8 389.8,692.3 397.3,696.2 404.8,698.6 412.3,699.3 419.8,698.0 427.3,693.5 434.8,688.3 442.3,684.8 449.8,680.3 457.3,672.4 464.8,665.6 472.3,660.8 479.8,656.9 487.3,654.5 494.8,655.3 502.3,657.9 509.8,659.4 517.3,660.3 524.9,660.8 532.4,662.1 539.9,665.2 547.4,666.9 554.9,664.9 562.4,661.5 569.9,658.0 577.4,657.6 584.9,657.5 592.4,658.4 599.9,660.8 607.4,664.3 614.9,672.4 622.4,682.8 629.9,694.6 637.4,705.9 644.9,716.5 652.4,726.1 659.9,729.6 667.4,730.0 674.9,723.5 682.4,717.2 689.9,711.1 697.4,702.4 704.9,685.8 712.4,673.8 720.0,663.1 727.5,649.1 735.0,632.6 742.5,617.6 750.0,607.9 757.5,602.2 765.0,597.3 772.5,590.9 780.0,583.6 787.5,581.2 795.0,582.4 802.5,584.2 810.0,585.9 817.5,586.8 825.0,590.6 832.5,598.9 840.0,608.0 847.5,614.7 855.0,624.1 862.5,630.0 870.0,632.8 877.5,633.8 885.0,631.6 892.5,630.5 900.0,629.3 907.6,624.5 915.1,623.2 922.6,622.2 930.1,619.7 937.6,615.1 945.1,606.9 952.6,599.6 960.1,596.4 967.6,587.6 975.1,590.3 982.6,595.0 990.1,598.2 997.6,601.5 1005.1,609.1 1012.6,621.1 1020.1,631.3 1027.6,629.6 1035.1,626.0 1042.6,626.8 1050.1,627.3 1057.6,624.5 1065.1,625.0 1072.6,622.4 1080.1,618.7 1087.7,616.2 1095.2,610.9 1102.7,606.8 1110.2,605.6 1117.7,606.0 1125.2,607.0 1132.7,609.9 1140.2,615.9 1147.7,620.9 1155.2,626.7 1162.7,633.1 1170.2,639.4 1177.7,644.4 1185.2,647.4 1192.7,645.5 1200.2,643.9 1207.7,648.0 1215.2,656.0 1222.7,658.7 1230.2,660.6 1237.7,662.3 1245.2,662.3 1252.7,665.7 1260.2,667.2 1267.7,667.6 1275.2,665.8 1282.8,662.6 1290.3,658.8 1297.8,655.4 1305.3,654.1 1312.8,656.1 1320.3,655.7 1327.8,655.5 1335.3,655.9 1342.8,657.7 1350.3,661.8 1357.8,669.2 1365.3,674.7 1372.8,676.4 1380.3,676.1 1387.8,674.0 1395.3,671.4 1402.8,669.5 1410.3,667.0 1417.8,662.4 1425.3,659.9 1432.8,657.9 1440.3,656.1 1447.8,652.2 1455.3,638.7 1462.8,624.8" fill="none" stroke="#2196f3" stroke-width="1.3" stroke-linejoin="round"/>
</g>
<text x="23.2" y="37.9" font-size="15.5" fill="#131722" textLength="280.8" lengthAdjust="spacingAndGlyphs">Gold US Dollars per Ounce Spot Prices, 1D</text>
<text x="313.7" y="37.9" font-size="15.5" fill="#131722" textLength="9.8" lengthAdjust="spacingAndGlyphs">O</text>
<text x="324.3" y="37.9" font-size="15.5" fill="#089981" textLength="75.5" lengthAdjust="spacingAndGlyphs">2115.18000</text>
<text x="409.9" y="37.9" font-size="15.5" fill="#131722" textLength="8.2" lengthAdjust="spacingAndGlyphs">H</text>
<text x="419.3" y="37.9" font-size="15.5" fill="#089981" textLength="75.6" lengthAdjust="spacingAndGlyphs">2115.18000</text>
<text x="505.2" y="37.9" font-size="15.5" fill="#131722" textLength="6.6" lengthAdjust="spacingAndGlyphs">L</text>
<text x="513.0" y="37.9" font-size="15.5" fill="#089981" textLength="75.0" lengthAdjust="spacingAndGlyphs">2115.18000</text>
<text x="597.3" y="37.9" font-size="15.5" fill="#131722" textLength="7.9" lengthAdjust="spacingAndGlyphs">C</text>
<text x="606.7" y="37.9" font-size="15.5" fill="#089981" textLength="75.0" lengthAdjust="spacingAndGlyphs">2115.18000</text>
<text x="692.3" y="37.9" font-size="15.5" fill="#089981" textLength="128.4" lengthAdjust="spacingAndGlyphs">+31.61000 (+1.52%)</text>
<text x="23.2" y="58.7" font-size="15.5" fill="#131722" textLength="298.2" lengthAdjust="spacingAndGlyphs">Moving Average Triple (20, 100, 200, Simple)</text>
<text x="332.1" y="58.7" font-size="15.5" fill="#ff6d00" textLength="75.4" lengthAdjust="spacingAndGlyphs">2030.84300</text>
<text x="417.2" y="58.7" font-size="15.5" fill="#2196f3" textLength="76.1" lengthAdjust="spacingAndGlyphs">2016.18540</text>
<text x="503.4" y="58.7" font-size="15.5" fill="#26c6da" textLength="74.8" lengthAdjust="spacingAndGlyphs">1969.61345</text>
<text x="23.7" y="403.9" font-size="15.5" fill="#131722" textLength="49.8" lengthAdjust="spacingAndGlyphs">RSI (14)</text>
<text x="84.1" y="403.9" font-size="15.5" fill="#7e57c2" textLength="35.8" lengthAdjust="spacingAndGlyphs">76.30</text>
<text x="23.2" y="587.9" font-size="15.5" fill="#131722" textLength="155.8" lengthAdjust="spacingAndGlyphs">MACD (12, 26, close, 9)</text>
<text x="189" y="587.9" font-size="15.5" fill="#22ab94" textLength="52" lengthAdjust="spacingAndGlyphs">9.22412</text>
<text x="251" y="587.9" font-size="15.5" fill="#2196f3" textLength="59.4" lengthAdjust="spacingAndGlyphs">11.91603</text>
<text x="320.7" y="587.9" font-size="15.5" fill="#ff6d00" textLength="51.2" lengthAdjust="spacingAndGlyphs">2.69191</text>
<text x="1551.3" y="49.8" font-size="15.5" fill="#131722" textLength="75.4" lengthAdjust="spacingAndGlyphs">2150.00000</text>
<text x="1551.3" y="94.1" font-size="15.5" fill="#131722" textLength="75.4" lengthAdjust="spacingAndGlyphs">2100.00000</text>
<text x="1551.3" y="138.5" font-size="15.5" fill="#131722" textLength="75.4" lengthAdjust="spacingAndGlyphs">2050.00000</text>
<text x="1551.3" y="183.1" font-size="15.5" fill="#131722" textLength="75.4" lengthAdjust="spacingAndGlyphs">2000.00000</text>
<text x="1551.3" y="227.8" font-size="15.5" fill="#131722" textLength="75.4" lengthAdjust="spacingAndGlyphs">1950.00000</text>
<text x="1551.3" y="272.5" font-size="15.5" fill="#131722" textLength="75.4" lengthAdjust="spacingAndGlyphs">1900.00000</text>
<text x="1551.3" y="316.9" font-size="15.5" fill="#131722" textLength="75.4" lengthAdjust="spacingAndGlyphs">1850.00000</text>
<text x="1551.3" y="361.8" font-size="15.5" fill="#131722" textLength="75.4" lengthAdjust="spacingAndGlyphs">1800.00000</text>
<text x="1551.5" y="392.9" font-size="15.5" fill="#131722" textLength="36.3" lengthAdjust="spacingAndGlyphs">80.00</text>
<text x="1551.5" y="444.9" font-size="15.5" fill="#131722" textLength="36.3" lengthAdjust="spacingAndGlyphs">60.00</text>
<text x="1551.5" y="496.9" font-size="15.5" fill="#131722" textLength="36.3" lengthAdjust="spacingAndGlyphs">40.00</text>
<text x="1551.5" y="548.9" font-size="15.5" fill="#131722" textLength="36.3" lengthAdjust="spacingAndGlyphs">20.00</text>
<text x="1551.3" y="607.8" font-size="15.5" fill="#131722" textLength="59.6" lengthAdjust="spacingAndGlyphs">20.00000</text>
<text x="1551.3" y="717.9" font-size="15.5" fill="#131722" textLength="67.8" lengthAdjust="spacingAndGlyphs">−20.00000</text>
<path d="M1541 66H1633Q1635 66 1635 68V84.7Q1635 86.7 1633 86.7H1541Z" fill="#089981"/>
<text x="1551.2" y="81.8" font-size="15" fill="#ffffff" textLength="75.6" lengthAdjust="spacingAndGlyphs" stroke="#ffffff" stroke-width="0.45">2115.18000</text>
<path d="M1541 141H1633Q1635 141 1635 143V159.5Q1635 161.5 1633 161.5H1541Z" fill="#ff6d00"/>
<text x="1551.2" y="156.7" font-size="15" fill="#ffffff" textLength="75.8" lengthAdjust="spacingAndGlyphs" stroke="#ffffff" stroke-width="0.45">2030.84300</text>
<path d="M1541 162.1H1633Q1635 162.1 1635 164.1V180.7Q1635 182.7 1633 182.7H1541Z" fill="#2196f3"/>
<text x="1551.2" y="177.8" font-size="15" fill="#ffffff" textLength="75.8" lengthAdjust="spacingAndGlyphs" stroke="#ffffff" stroke-width="0.45">2016.18540</text>
<path d="M1541 196.1H1633Q1635 196.1 1635 198.1V214.6Q1635 216.6 1633 216.6H1541Z" fill="#26c6da"/>
<text x="1551.2" y="211.8" font-size="15" fill="#131722" textLength="75.4" lengthAdjust="spacingAndGlyphs" stroke="#131722" stroke-width="0.45">1969.61345</text>
<path d="M1541 387.5H1592.6Q1594.6 387.5 1594.6 389.5V405.2Q1594.6 407.2 1592.6 407.2H1541Z" fill="#7e57c2"/>
<text x="1551.2" y="402.8" font-size="15" fill="#ffffff" textLength="36.5" lengthAdjust="spacingAndGlyphs" stroke="#ffffff" stroke-width="0.45">76.30</text>
<path d="M1541 601.3H1616.7Q1618.7 601.3 1618.7 603.3V619.5Q1618.7 621.5 1616.7 621.5H1541Z" fill="#2196f3"/>
<text x="1551.2" y="616.8" font-size="15" fill="#ffffff" textLength="60" lengthAdjust="spacingAndGlyphs" stroke="#ffffff" stroke-width="0.45">11.91603</text>
<path d="M1541 623H1608.5Q1610.5 623 1610.5 625V641.6Q1610.5 643.6 1608.5 643.6H1541Z" fill="#22ab94"/>
<text x="1551.2" y="638.7" font-size="15" fill="#ffffff" textLength="52.5" lengthAdjust="spacingAndGlyphs" stroke="#ffffff" stroke-width="0.45">9.22412</text>
<path d="M1541 644.2H1608.5Q1610.5 644.2 1610.5 646.2V662.5Q1610.5 664.5 1608.5 664.5H1541Z" fill="#ff6d00"/>
<text x="1551.2" y="659.8" font-size="15" fill="#ffffff" textLength="52.5" lengthAdjust="spacingAndGlyphs" stroke="#ffffff" stroke-width="0.45">2.69191</text>
<text x="139.4" y="768.9" font-size="15.5" fill="#131722" textLength="19.5" lengthAdjust="spacingAndGlyphs">Jul</text>
<text x="295" y="768.9" font-size="15.5" fill="#131722" textLength="23.9" lengthAdjust="spacingAndGlyphs">Aug</text>
<text x="467.4" y="768.9" font-size="15.5" fill="#131722" textLength="23.7" lengthAdjust="spacingAndGlyphs">Sep</text>
<text x="625.4" y="768.9" font-size="15.5" fill="#131722" textLength="22.5" lengthAdjust="spacingAndGlyphs">Oct</text>
<text x="790.1" y="768.9" font-size="15.5" fill="#131722" textLength="23.9" lengthAdjust="spacingAndGlyphs">Nov</text>
<text x="954.6" y="768.9" font-size="15.5" fill="#131722" textLength="24.6" lengthAdjust="spacingAndGlyphs">Dec</text>
<text x="1107.9" y="768.9" font-size="15.5" fill="#131722" textLength="33.6" lengthAdjust="spacingAndGlyphs" font-weight="bold">2024</text>
<text x="1285.4" y="768.9" font-size="15.5" fill="#131722" textLength="23.2" lengthAdjust="spacingAndGlyphs">Feb</text>
<text x="1442.1" y="768.9" font-size="15.5" fill="#131722" textLength="23.9" lengthAdjust="spacingAndGlyphs">Mar</text>
<g transform="translate(13.1 794.3) scale(0.68)" fill="#131722"><path d="M14 22H7V11H0V4h14v18zM28 22h-8l7.5-18h8L28 22z"/><circle cx="20" cy="8" r="4"/></g>
<text x="42.2" y="808.8" font-size="15.5" fill="#131722" textLength="87.3" lengthAdjust="spacingAndGlyphs">TradingView</text>
</svg></body></html>
